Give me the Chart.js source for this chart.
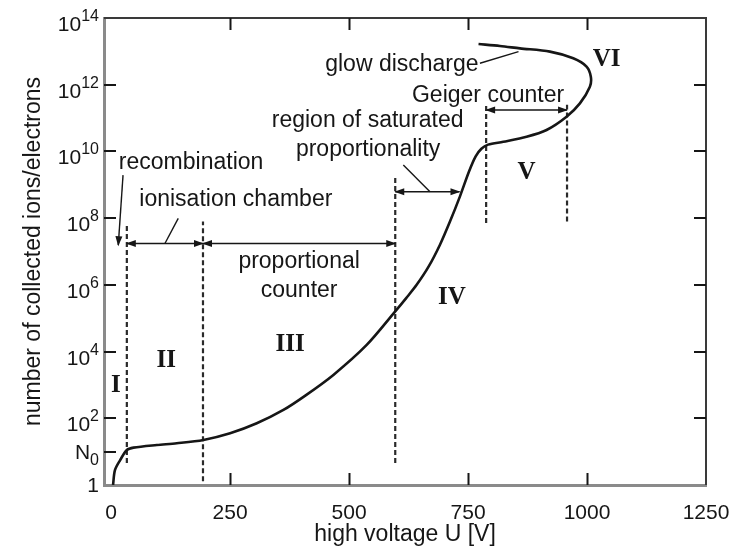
<!DOCTYPE html>
<html>
<head>
<meta charset="utf-8">
<script src="https://cdn.jsdelivr.net/npm/chart.js@4.4.1/dist/chart.umd.min.js"></script>
<style>
  html, body { margin: 0; padding: 0; background: #fff; }
  canvas { display: block; }
</style>
</head>
<body>
<canvas id="chart" width="734" height="548"></canvas>
<script>
// counting regions of a gas detector vs. high voltage

const curveVoltage = [4, 8, 19, 33, 47, 96, 138, 194, 250, 306, 362, 408, 467, 537, 597, 620, 642, 667, 691, 712, 733, 752, 766, 778, 792, 824, 873, 915, 957, 985, 1006, 1008, 999, 971, 922, 859, 817, 772];
const curveCount = [1, 2.8, 5.6, 11.2, 13.2, 15.8, 17.8, 22.4, 35.5, 70.8, 178, 479, 2.0e3, 1.58e4, 1.6e5, 4.0e5, 1.0e6, 3.5e6, 1.6e7, 7.9e7, 4.5e8, 2.5e9, 7.1e9, 1.2e10, 1.6e10, 1.95e10, 2.75e10, 4.4e10, 1.1e11, 2.75e11, 8.7e11, 1.74e12, 3.5e12, 6.2e12, 9.8e12, 1.23e13, 1.45e13, 1.66e13];

const xTicks = [0, 250, 500, 750, 1000, 1250];
const yTicks = [1, 10, 1e2, 1e4, 1e6, 1e8, 1e10, 1e12, 1e14];
const yTickLabels = ["1", "N_0", "10^2", "10^4", "10^6", "10^8", "10^10", "10^12", "10^14"];

// dashed region boundaries
const boundaryVoltage = [33, 193, 597, 788, 958];
const boundaryLow = [4.6, 1.3, 4.6, 7.1e7, 7.9e7];
const boundaryHigh = [6.9e7, 7.9e7, 1.7e9, 2.5e11, 2.5e11];

// double arrows marking the ranges
const rangeFrom = [33, 193, 597, 788];
const rangeTo = [193, 597, 732, 958];
const rangeLevel = [1.74e7, 1.74e7, 6.2e8, 1.74e11];

// thin leader lines from the labels
const leaderFromV = [25, 141, 614, 775];
const leaderFromN = [1.95e9, 9.8e7, 3.9e9, 4.4e12];
const leaderToV = [15, 113, 670, 856];
const leaderToN = [1.55e7, 1.74e7, 6.2e8, 9.8e12];
const leaderArrow = [true, false, false, false];

const labelText = ["recombination", "ionisation chamber", "proportional", "counter", "region of saturated", "proportionality", "Geiger counter", "glow discharge"];
const labelV = [168, 262, 395, 395, 539, 540, 792, 611];
const labelN = [2.9e9, 2.3e8, 3.2e6, 4.4e5, 5.5e10, 7.2e9, 3.1e11, 2.6e12];

const regionText = ["I", "II", "III", "IV", "V", "VI"];
const regionV = [10, 116, 376, 716, 873, 1041];
const regionN = [9.3e2, 5.2e3, 1.6e4, 4.2e5, 2.3e9, 5.5e12];

const SANS = "'Liberation Sans', Arial, sans-serif";
const SERIF = "'Liberation Serif', 'Times New Roman', serif";
const INK = "#161616";

Chart.defaults.font.family = SANS;
Chart.defaults.color = INK;

const datasets = [];

datasets.push({
  data: curveVoltage.map((v, i) => ({ x: v, y: curveCount[i] })),
  borderColor: INK,
  borderWidth: 2.6,
  tension: 0.3,
  pointRadius: 0,
  showLine: true
});

boundaryVoltage.forEach((v, i) => {
  datasets.push({
    data: [{ x: v, y: boundaryLow[i] }, { x: v, y: boundaryHigh[i] }],
    borderColor: "#2a2a2a",
    borderWidth: 2.2,
    borderDash: [5, 3],
    pointRadius: 0,
    showLine: true
  });
});

rangeFrom.forEach((v, i) => {
  datasets.push({
    data: [{ x: v, y: rangeLevel[i] }, { x: rangeTo[i], y: rangeLevel[i] }],
    borderColor: INK,
    borderWidth: 1.6,
    pointRadius: 0,
    showLine: true,
    arrowEnds: "both"
  });
});

leaderFromV.forEach((v, i) => {
  datasets.push({
    data: [{ x: v, y: leaderFromN[i] }, { x: leaderToV[i], y: leaderToN[i] }],
    borderColor: INK,
    borderWidth: 1.4,
    pointRadius: 0,
    showLine: true,
    arrowEnds: leaderArrow[i] ? "end" : null
  });
});

function arrowHead(ctx, from, to) {
  const ang = Math.atan2(to.y - from.y, to.x - from.x);
  ctx.save();
  ctx.translate(to.x, to.y);
  ctx.rotate(ang);
  ctx.beginPath();
  ctx.moveTo(1, 0);
  ctx.lineTo(-9, -3.5);
  ctx.lineTo(-9, 3.5);
  ctx.closePath();
  ctx.fillStyle = INK;
  ctx.fill();
  ctx.restore();
}

function drawYLabel(ctx, label, py) {
  const right = 99;
  let base = label, script = "", sup = true;
  if (label.includes("^")) [base, script] = label.split("^");
  if (label.includes("_")) { [base, script] = label.split("_"); sup = false; }
  ctx.textAlign = "left";
  ctx.textBaseline = "alphabetic";
  ctx.font = "21px " + SANS;
  const wb = ctx.measureText(base).width;
  ctx.font = "16px " + SANS;
  const ws = script ? ctx.measureText(script).width : 0;
  const x0 = right - wb - ws;
  ctx.font = "21px " + SANS;
  if (!script) {
    ctx.fillText(base, x0, py + 7);
  } else if (sup) {
    ctx.fillText(base, x0, py + 13);
    ctx.font = "16px " + SANS;
    ctx.fillText(script, x0 + wb, py + 3);
  } else {
    ctx.fillText(base, x0, py + 7);
    ctx.font = "16px " + SANS;
    ctx.fillText(script, x0 + wb, py + 13);
  }
}

const decorations = {
  id: "decorations",
  afterDatasetsDraw(chart) {
    const ctx = chart.ctx;
    chart.data.datasets.forEach((ds, i) => {
      if (!ds.arrowEnds) return;
      const pts = chart.getDatasetMeta(i).data;
      const a = pts[0], b = pts[pts.length - 1];
      arrowHead(ctx, a, b);
      if (ds.arrowEnds === "both") arrowHead(ctx, b, a);
    });
  },
  afterDraw(chart) {
    const { ctx, chartArea: area, scales: { x, y } } = chart;
    ctx.save();

    // top and right frame
    ctx.strokeStyle = "#3a3a3a";
    ctx.lineWidth = 2;
    ctx.beginPath();
    ctx.moveTo(area.left, area.top);
    ctx.lineTo(area.right, area.top);
    ctx.lineTo(area.right, area.bottom);
    ctx.stroke();

    // inward tick marks
    const tl = 12;
    ctx.strokeStyle = INK;
    ctx.lineWidth = 2;
    ctx.beginPath();
    xTicks.filter(v => v > 0 && v < 1250).forEach(v => {
      const px = Math.round(x.getPixelForValue(v)) + 0.5;
      ctx.moveTo(px, area.bottom); ctx.lineTo(px, area.bottom - tl);
      ctx.moveTo(px, area.top); ctx.lineTo(px, area.top + tl);
    });
    yTicks.filter(v => v > 1 && v < 1e14).forEach(v => {
      const py = Math.round(y.getPixelForValue(v));
      ctx.moveTo(area.left, py); ctx.lineTo(area.left + tl, py);
      if (v > 10) { ctx.moveTo(area.right, py); ctx.lineTo(area.right - tl, py); }
    });
    ctx.stroke();

    // y tick labels with exponents
    ctx.fillStyle = INK;
    yTicks.forEach((v, i) => drawYLabel(ctx, yTickLabels[i], y.getPixelForValue(v)));

    // annotation texts
    ctx.font = "23px " + SANS;
    ctx.textAlign = "center";
    ctx.textBaseline = "alphabetic";
    labelText.forEach((t, i) => {
      ctx.fillText(t, x.getPixelForValue(labelV[i]), y.getPixelForValue(labelN[i]));
    });

    // region numerals
    ctx.font = "bold 25px " + SERIF;
    ctx.textBaseline = "middle";
    regionText.forEach((t, i) => {
      ctx.fillText(t, x.getPixelForValue(regionV[i]), y.getPixelForValue(regionN[i]));
    });

    ctx.restore();
  }
};

new Chart(document.getElementById("chart"), {
  type: "scatter",
  data: { datasets },
  options: {
    responsive: false,
    animation: false,
    layout: { padding: { left: 0, right: 28, top: 18, bottom: 0 } },
    plugins: {
      legend: { display: false },
      tooltip: { enabled: false }
    },
    scales: {
      x: {
        type: "linear",
        min: -15,
        max: 1250,
        afterBuildTicks: s => { s.ticks = xTicks.map(v => ({ value: v })); },
        afterFit: s => { s.height = 63; s.paddingLeft = 0; s.paddingRight = 0; },
        grid: { display: false },
        border: { display: true, color: "#8a8a8a", width: 3 },
        ticks: { font: { size: 21 }, color: INK, padding: 8, maxRotation: 0, callback: v => String(v) },
        title: {
          display: true,
          text: "high voltage U [V]",
          font: { size: 23 },
          color: INK,
          padding: { top: 0, bottom: 0 }
        }
      },
      y: {
        type: "logarithmic",
        min: 1,
        max: 1e14,
        afterBuildTicks: s => { s.ticks = yTicks.map(v => ({ value: v })); },
        afterFit: s => { s.width = 104; },
        grid: { display: false },
        border: { display: true, color: "#8a8a8a", width: 3 },
        ticks: { display: false },
        title: {
          display: true,
          text: "number of collected ions/electrons",
          font: { size: 23 },
          color: INK,
          padding: { top: 20, bottom: 0 }
        }
      }
    }
  },
  plugins: [decorations]
});
</script>
</body>
</html>
